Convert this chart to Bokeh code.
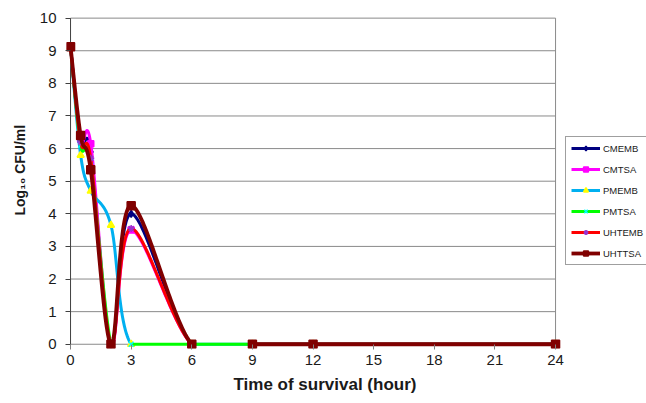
import numpy as np
from bokeh.plotting import figure
from bokeh.models import (Range1d, FixedTicker, Legend, LegendItem,
                          ColumnDataSource, Title)
from bokeh.embed import file_html
from bokeh.resources import INLINE

# ---------------- data ----------------
time_h = [0, 0.5, 1, 2, 3, 6, 9, 12, 24]
CMEMB = [9.12, 6.2, 5.9, 0, 4.0, 0, 0, 0, 0]
CMTSA = [9.12, 6.3, 6.15, 0, 3.5, 0, 0, 0, 0]
PMEMB = [9.12, 5.8, 4.7, 3.65, 0, 0, 0, 0, 0]
PMTSA = [9.12, 6.1, 5.6, 0, 0, 0, 0, 0, 0]
UHTEMB = [9.12, 6.2, 5.7, 0, 3.55, 0, 0, 0, 0]
UHTTSA = [9.12, 6.4, 5.35, 0, 4.25, 0, 0, 0, 0]
series_names = ["CMEMB", "CMTSA", "PMEMB", "PMTSA", "UHTEMB", "UHTTSA"]
series_values = [CMEMB, CMTSA, PMEMB, PMTSA, UHTEMB, UHTTSA]
x_ticks = [0, 3, 6, 9, 12, 15, 18, 21, 24]
y_ticks = list(range(0, 11))

# ---------------- styles ----------------
line_colors = ["#000080", "#FF00FF", "#00B0F0", "#00FF00", "#FF0000", "#800000"]
line_widths = [3, 3, 3, 3, 3, 3.8]
markers = ["diamond", "square", "triangle", "x", "asterisk", "square"]
marker_fill = ["#000080", "#FF00FF", "#FFFF00", "#00FFFF", "#9933CC", "#800000"]
marker_line = ["#000080", "#FF00FF", "#FFFF00", "#00FFFF", "#9933CC", "#800000"]
marker_sizes = [7, 6, 7, 7, 7, 8]


def smooth(xs, ys, n=60):
    """Excel-like smoothed line (Catmull-Rom Bezier); parts below the
    axis minimum are hidden, as the plot area clips them."""
    P = np.column_stack([xs, ys]).astype(float)
    m = len(P)
    out_x, out_y = [], []
    for i in range(m - 1):
        p0 = P[max(i - 1, 0)]
        p1 = P[i]
        p2 = P[i + 1]
        p3 = P[min(i + 2, m - 1)]
        b1 = p1 + (p2 - p0) / 6.0
        b2 = p2 - (p3 - p1) / 6.0
        t = np.linspace(0, 1, n)[:, None]
        c = ((1 - t) ** 3) * p1 + 3 * ((1 - t) ** 2) * t * b1 \
            + 3 * (1 - t) * t ** 2 * b2 + t ** 3 * p2
        if i > 0:
            c = c[1:]
        out_x.extend(c[:, 0])
        out_y.extend(c[:, 1])
    out_x = np.array(out_x)
    out_y = np.array(out_y)
    out_y = np.where(out_y < -1e-6, np.nan, np.maximum(out_y, 0))
    return out_x, out_y


p = figure(width=646, height=403, output_backend="svg", toolbar_location=None,
           x_range=Range1d(-0.2, 28.5), y_range=Range1d(-0.13, 10.05),
           min_border_left=66, min_border_right=0, min_border_top=16,
           min_border_bottom=55)
p.background_fill_color = "white"
p.border_fill_color = "white"
p.outline_line_color = None
p.xgrid.grid_line_color = None
p.ygrid.grid_line_color = None

# axes
p.xaxis.ticker = FixedTicker(ticks=x_ticks)
p.yaxis.ticker = FixedTicker(ticks=y_ticks)
for ax in (p.xaxis, p.yaxis):
    ax.major_label_text_font = "Liberation Sans"
    ax.major_label_text_font_size = "15px"
    ax.major_label_text_color = "#1a1a1a"
    ax.minor_tick_line_color = None
    ax.axis_line_color = None
    ax.major_tick_in = 4
    ax.major_tick_out = 1
p.xaxis.major_tick_line_color = "#808080"
p.xaxis.major_label_standoff = 5
p.yaxis.major_tick_line_color = "#404040"
p.yaxis.major_label_standoff = 9

# axis titles
p.add_layout(Title(text="Time of survival (hour)", align="left", offset=167,
                   text_font="Liberation Sans", text_font_style="bold",
                   text_font_size="17px", text_color="#1a1a1a", standoff=11),
             "below")
p.add_layout(Title(text="Log₁₀ CFU/ml", align="left", offset=133,
                   text_font="Liberation Sans", text_font_style="bold",
                   text_font_size="14px", text_color="#1a1a1a", standoff=17),
             "left")

# plot-area lines: horizontal gridlines, value axis, right border
n_y = len(y_ticks)
p.segment(x0=[x_ticks[0]] * n_y, y0=y_ticks, x1=[x_ticks[-1]] * n_y, y1=y_ticks,
          line_color="#8a8a8a", line_width=1)
p.segment(x0=[x_ticks[-1]], y0=[y_ticks[0]], x1=[x_ticks[-1]], y1=[y_ticks[-1]],
          line_color="#8a8a8a", line_width=1)
p.segment(x0=[x_ticks[0]], y0=[y_ticks[0]], x1=[x_ticks[0]], y1=[y_ticks[-1]],
          line_color="#404040", line_width=1)

items = []
for name, vals, lc, lw, mk, mf, ml, ms in zip(series_names, series_values,
                                              line_colors, line_widths, markers,
                                              marker_fill, marker_line, marker_sizes):
    sx, sy = smooth(time_h, vals)
    r_line = p.line(sx, sy, line_color=lc, line_width=lw, line_join="round")
    src = ColumnDataSource(dict(x=time_h, y=vals))
    r_pt = p.scatter("x", "y", source=src, marker=mk, size=ms,
                     fill_color=mf, line_color=ml, line_width=1.5)
    items.append(LegendItem(label=name, renderers=[r_line, r_pt]))

legend = Legend(items=items, location=(499, 83))
legend.label_text_font = "Liberation Sans"
legend.label_text_font_size = "9.5px"
legend.label_text_color = "#1a1a1a"
legend.glyph_width = 29
legend.glyph_height = 12
legend.label_height = 12
legend.label_standoff = 3
legend.spacing = 9
legend.padding = 5
legend.margin = 0
legend.border_line_color = "#404040"
legend.border_line_width = 1
legend.background_fill_color = "white"
p.add_layout(legend)

open("out.html", "w").write(file_html(p, INLINE))
